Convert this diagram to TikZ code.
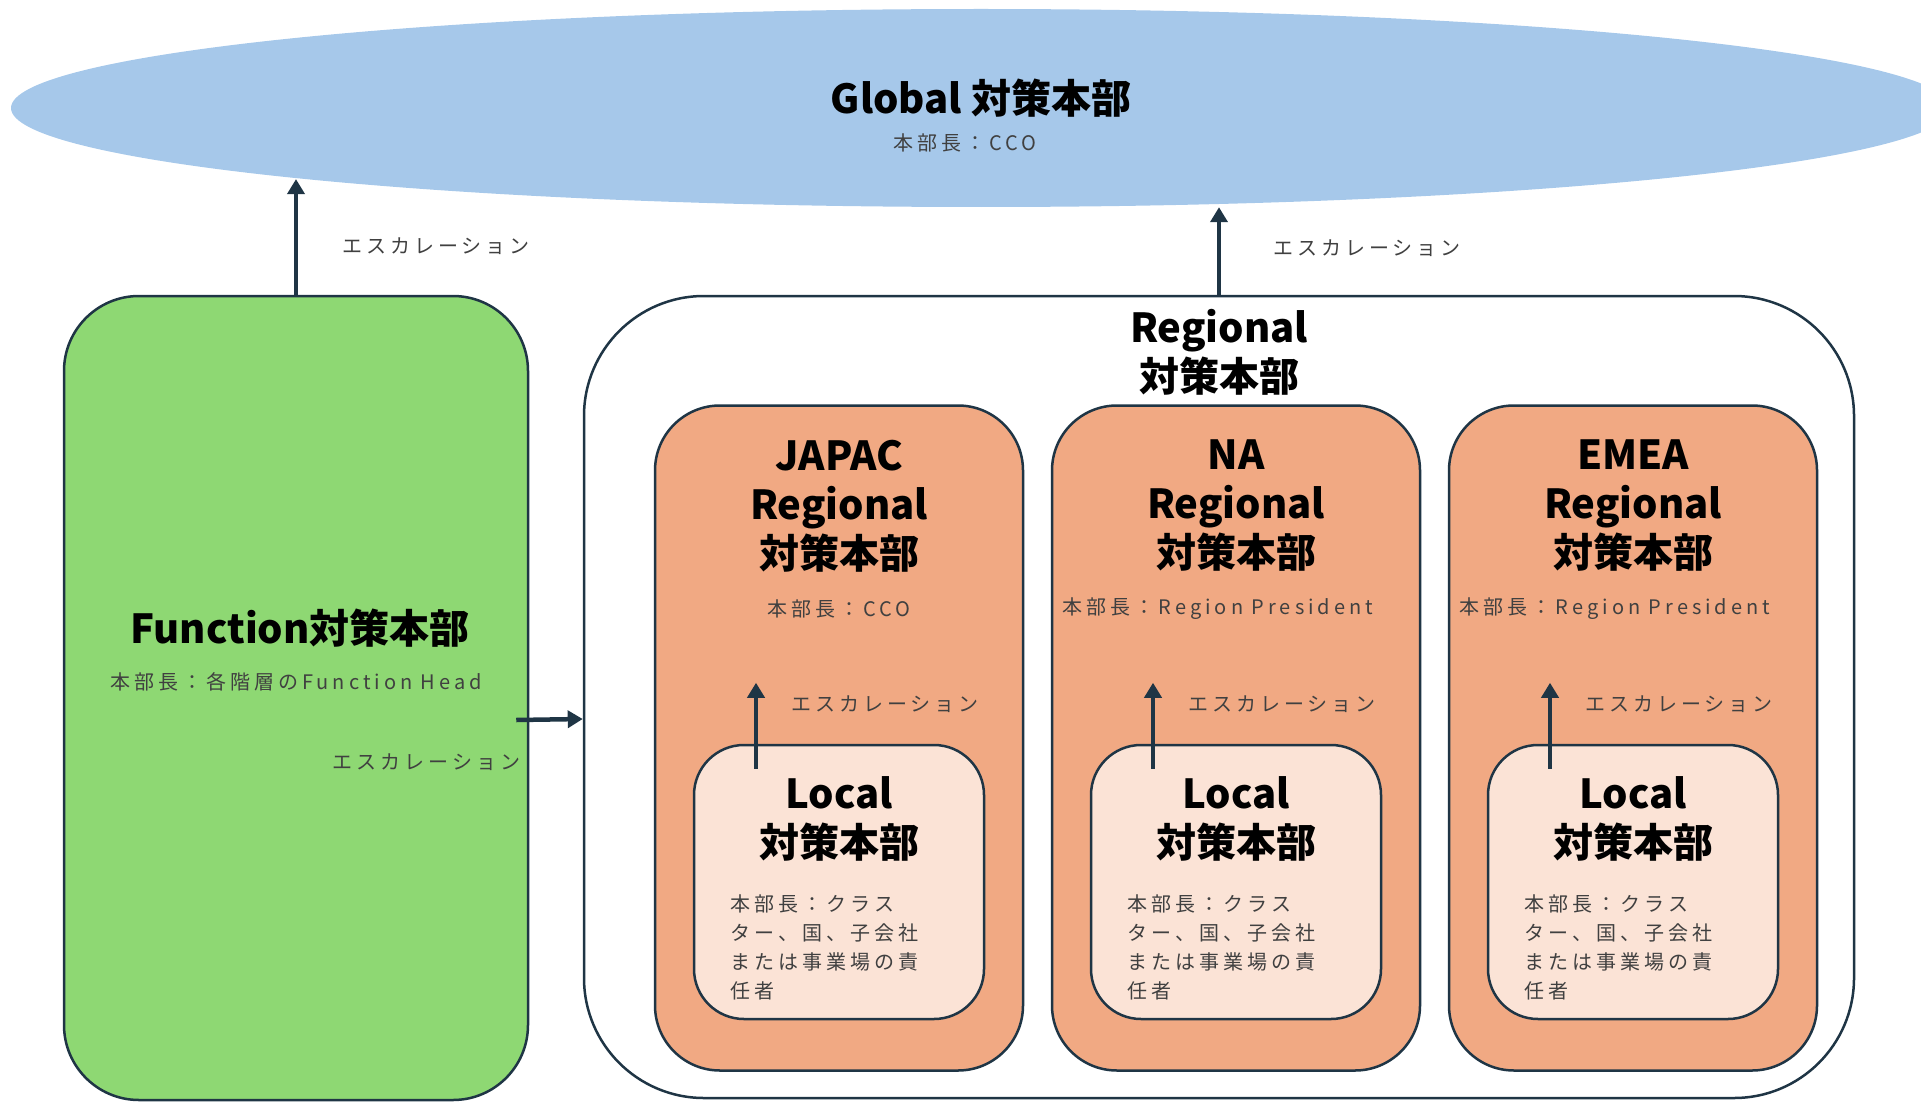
\documentclass[tikz,border=0pt]{standalone}
\usepackage{fontspec}
\setmainfont{Noto Sans CJK JP}
\newfontfamily\spacedjp[LetterSpace=20]{Noto Sans CJK JP}
\usetikzlibrary{arrows.meta,positioning,shapes.geometric}

\definecolor{edgec}{HTML}{1F3545}
\definecolor{globc}{HTML}{A6C8EA}
\definecolor{funcc}{HTML}{8ED873}
\definecolor{regc}{HTML}{F1A983}
\definecolor{locc}{HTML}{FBE3D6}
\definecolor{subc}{HTML}{404040}

\tikzset{
  hq/.style={draw=edgec,line width=2.5pt,rounded corners=#1,inner sep=0pt},
  regbox/.style={hq=65pt,fill=regc,minimum width=368pt,minimum height=665pt},
  locbox/.style={hq=50pt,fill=locc,minimum width=290pt,minimum height=274pt},
  title/.style={font=\bfseries\fontsize{40}{49}\selectfont,align=center,inner sep=0pt},
  sub/.style={font=\spacedjp\fontsize{20}{29}\selectfont,text=subc,inner sep=0pt},
  body/.style={sub,align=left},
  esc/.style={sub,anchor=west},
  arr/.style={draw=edgec,line width=4.5pt}
}

\begin{document}
\begin{tikzpicture}[x=1pt,y=-1pt,>={Triangle[length=15pt,width=17pt]},node distance=397pt,on grid]
\useasboundingbox (0,0) rectangle (1921,1102);
\clip (0,0) rectangle (1921,1102);

% global
\node[ellipse,fill=globc,minimum width=1940pt,minimum height=198pt] (glob) at (981,108) {};
\node[title] (globtitle) at (981,98) {Global 対策本部};
\node[sub] (globsub) at (965,143) {本部長：CCO};

% function
\node[hq=75pt,fill=funcc,minimum width=464pt,minimum height=804pt] (func) at (296,698) {};
\node[title] (functitle) at (300,628) {Function対策本部};
\node[sub] (funcsub) at (296,682) {本部長：各階層のFunction Head};

% regional
\node[hq=120pt,fill=white,minimum width=1270pt,minimum height=802pt] (regional) at (1219,697) {};
\node[title,above=345pt of regional] (regtitle) {Regional\\対策本部};

\node[regbox] (japac) at (839,738) {};
\node[regbox,right=of japac] (na) {};
\node[regbox,right=of na] (emea) {};

\node[title,above=232pt of japac] (japactitle) {JAPAC\\Regional\\対策本部};
\node[title,above=232pt of na] (natitle) {NA\\Regional\\対策本部};
\node[title,above=232pt of emea] (emeatitle) {EMEA\\Regional\\対策本部};
\node[sub,above=129pt of japac] (japacsub) {本部長：CCO};
\node[sub,above=129pt of na,xshift=-18pt] (nasub) {本部長：Region President};
\node[sub,above=129pt of emea,xshift=-18pt] (emeasub) {本部長：Region President};

% local
\foreach \r in {japac,na,emea}{
  \node[locbox,below=144pt of \r] (l\r) {};
  \node[title,above=63pt of l\r] (l\r title) {Local\\対策本部};
  \node[body,anchor=north west] (l\r body) at ([xshift=38pt,yshift=-151pt]l\r.north west)
    {本部長：クラス\\ター、国、子会社\\または事業場の責\\任者};
}

\path[->]
  (func.north) edge[arr] node[esc,pos=0.42,xshift=44pt] {エスカレーション} (func.north |- glob.186)
  (regional.north) edge[arr] node[esc,pos=0.53,xshift=52pt] {エスカレーション} (regional.north |- glob.south)
  ([xshift=-13pt,yshift=-22pt]func.east) edge[arr] node[sub,at start,anchor=east,xshift=6pt,yshift=-42pt] {エスカレーション} ([yshift=-22pt]regional.west);

\foreach \r in {japac,na,emea}{
  \path[->] ([xshift=-83pt,yshift=-25pt]l\r.north) edge[arr] node[esc,pos=0.75,xshift=33pt] {エスカレーション} ([xshift=-83pt,yshift=61pt]l\r.north);
}
\end{tikzpicture}
\end{document}
